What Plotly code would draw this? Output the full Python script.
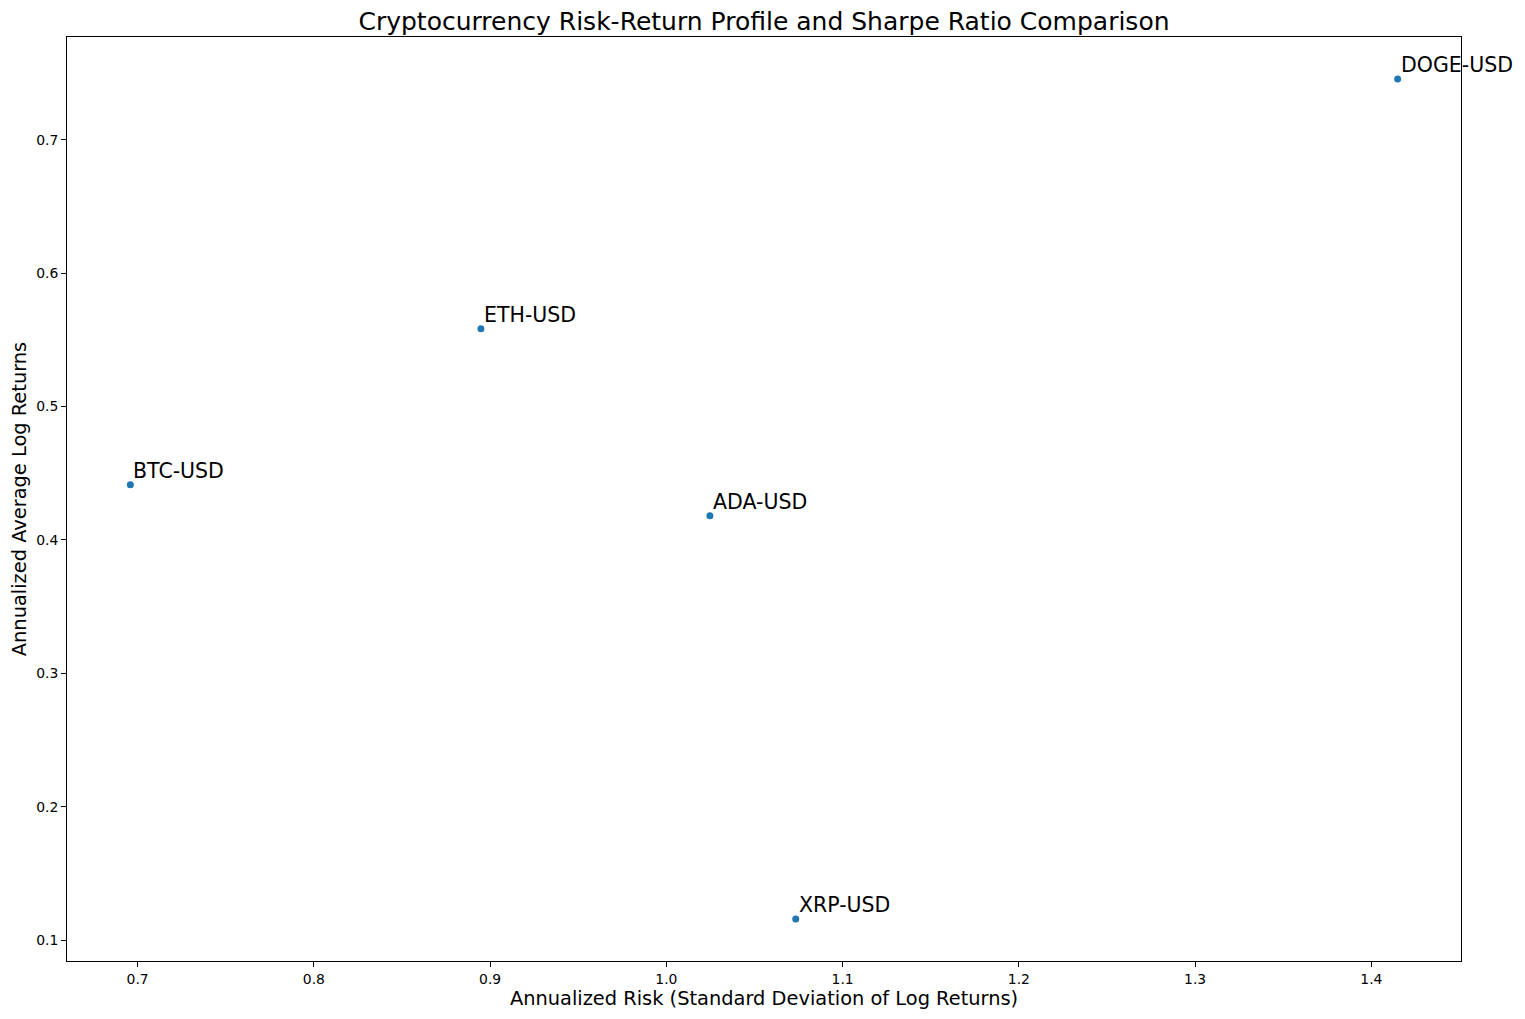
import plotly.graph_objects as go

tickers = ["BTC-USD", "ETH-USD", "ADA-USD", "XRP-USD", "DOGE-USD"]
risk = [0.6959, 0.8948, 1.0247, 1.0734, 1.4149]
ret = [0.4414, 0.5583, 0.4181, 0.1158, 0.7455]

x_ticks = [0.7, 0.8, 0.9, 1.0, 1.1, 1.2, 1.3, 1.4]
y_ticks = [0.1, 0.2, 0.3, 0.4, 0.5, 0.6, 0.7]

def padded(vals, frac=0.05):
    lo, hi = min(vals), max(vals)
    span = hi - lo
    return [lo - frac * span, hi + frac * span]

FONT = "DejaVu Sans"
W, H = 1509, 1003

fig = go.Figure()
fig.add_trace(go.Scatter(
    x=risk, y=ret, mode="markers",
    marker=dict(color="#1f77b4", size=7, line=dict(width=0)),
    showlegend=False, hoverinfo="skip",
))

for t, xv, yv in zip(tickers, risk, ret):
    fig.add_annotation(
        x=xv, y=yv, text=t, showarrow=False,
        xanchor="left", yanchor="bottom", xshift=1, yshift=0,
        font=dict(family=FONT, size=20.5, color="black"),
    )

axis_common = dict(
    showgrid=False, zeroline=False, showline=True, linecolor="black",
    linewidth=1, mirror=True, ticks="outside", ticklen=5, tickwidth=1,
    tickcolor="black", tickfont=dict(family=FONT, size=13.9, color="black"),
    automargin=False,
)

fig.update_layout(
    width=W, height=H,
    paper_bgcolor="white", plot_bgcolor="white",
    margin=dict(l=58.5, r=55.7, t=29.3, b=49.7, autoexpand=False),
    title=dict(
        text="Cryptocurrency Risk-Return Profile and Sharpe Ratio Comparison",
        x=0.5, xanchor="center", y=1 - 13 / H, yanchor="middle",
        xref="paper", automargin=False,
        font=dict(family=FONT, size=25, color="black"),
    ),
    xaxis=dict(
        range=padded(risk), tickvals=x_ticks,
        ticktext=[f"{v:.1f}" for v in x_ticks],
        title=dict(text="Annualized Risk (Standard Deviation of Log Returns)",
                   font=dict(family=FONT, size=19.4, color="black"), standoff=4),
        **axis_common,
    ),
    yaxis=dict(
        range=padded(ret), tickvals=y_ticks,
        ticktext=[f"{v:.1f}" for v in y_ticks],
        title=dict(text="Annualized Average Log Returns",
                   font=dict(family=FONT, size=19.4, color="black"), standoff=6),
        **axis_common,
    ),
)

fig.write_html("out.html")
